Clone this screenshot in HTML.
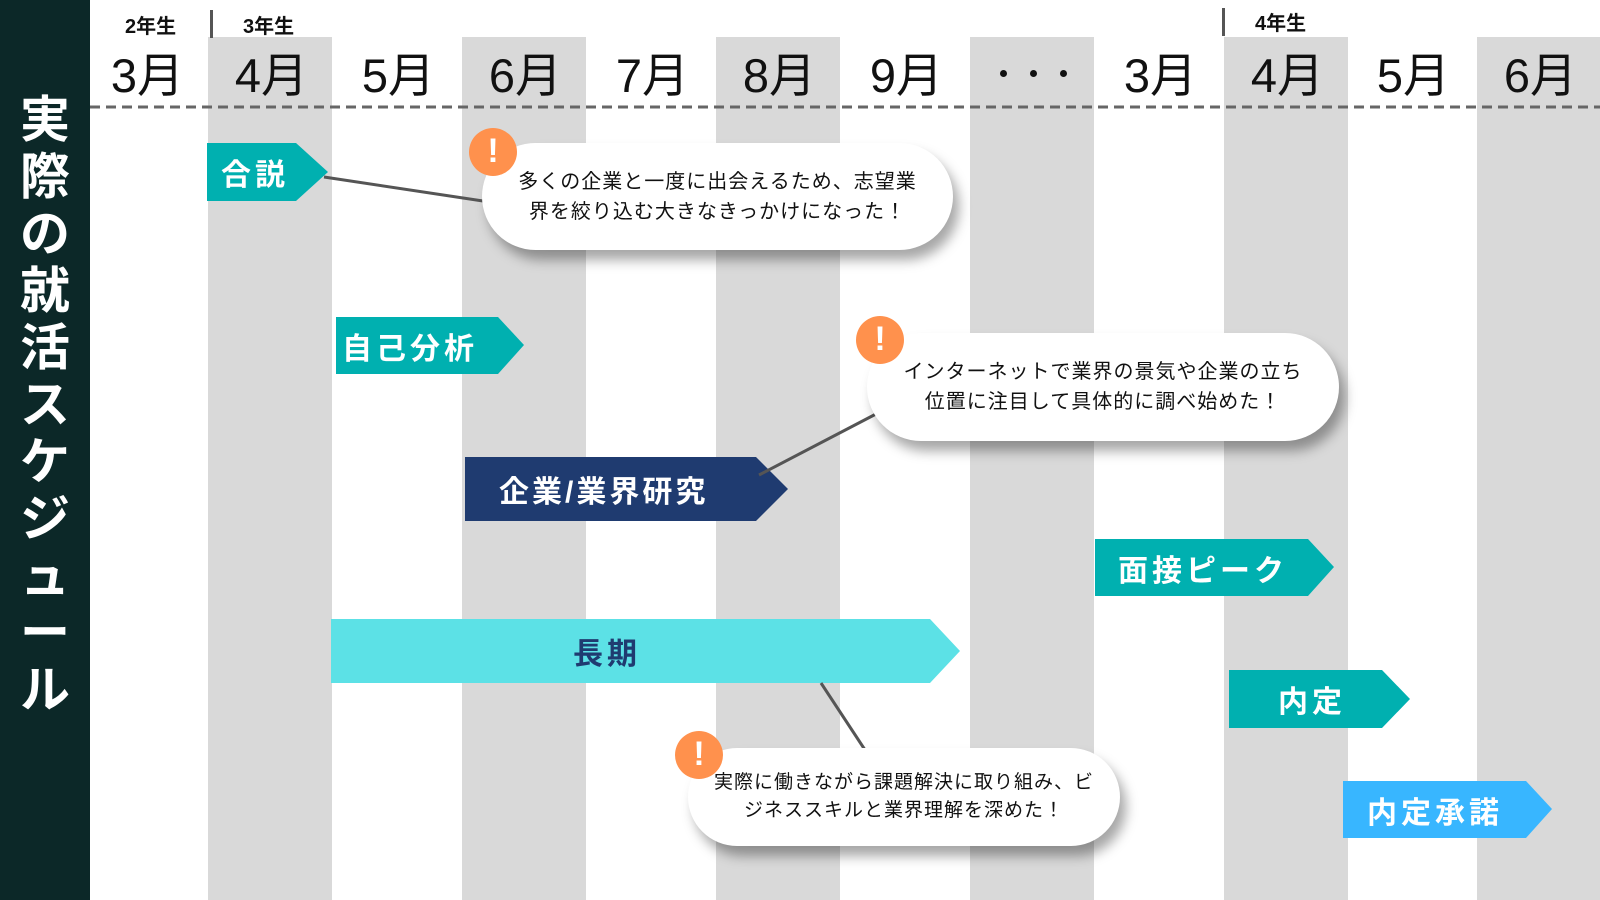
<!DOCTYPE html>
<html><head><meta charset="utf-8"><style>
*{margin:0;padding:0;box-sizing:border-box}
body{width:1600px;height:900px;position:relative;overflow:hidden;background:#fff;font-family:"Liberation Sans","Noto Sans CJK JP",sans-serif}
.a{position:absolute}
.side{left:0;top:0;width:90px;height:900px;background:#0c2828}
.gray{top:37px;height:863px;width:124px;background:#d9d9d9}
.mon{top:46px;width:127px;text-align:center;font-size:47px;color:#111;line-height:60px}
.yr{font-size:20px;font-weight:bold;color:#111}
.tag{color:#fff;font-weight:bold;display:flex;align-items:center;letter-spacing:4px}
.bub{background:#fff;border-radius:60px;box-shadow:6px 10px 12px rgba(0,0,0,.35);font-size:20px;line-height:30px;color:#111;text-align:center;display:flex;align-items:center;justify-content:center;letter-spacing:1px}
.ex{width:48px;height:48px;border-radius:50%;background:#ff914d;color:#fff;font-weight:bold;font-size:34px;text-align:center;line-height:46px}
.dot{width:7px;height:7px;border-radius:50%;background:#111;top:70px}
</style></head><body>
<div class="a side"></div>
<div class="a" style="left:16px;top:92px;width:58px;color:#fff;font-weight:bold;font-size:50px;line-height:57px;text-align:center">実<br>際<br>の<br>就<br>活<br>ス<br>ケ<br>ジ<br>ュ<br>ー<br>ル</div>

<div class="a gray" style="left:208px"></div>
<div class="a gray" style="left:462px"></div>
<div class="a gray" style="left:716px"></div>
<div class="a gray" style="left:970px"></div>
<div class="a gray" style="left:1224px"></div>
<div class="a gray" style="left:1477px;width:123px"></div>

<div class="a mon" style="left:84px">3月</div>
<div class="a mon" style="left:208px">4月</div>
<div class="a mon" style="left:335px">5月</div>
<div class="a mon" style="left:462px">6月</div>
<div class="a mon" style="left:589px">7月</div>
<div class="a mon" style="left:716px">8月</div>
<div class="a mon" style="left:843px">9月</div>
<div class="a dot" style="left:1000px"></div>
<div class="a dot" style="left:1030px"></div>
<div class="a dot" style="left:1060px"></div>
<div class="a mon" style="left:1097px">3月</div>
<div class="a mon" style="left:1224px">4月</div>
<div class="a mon" style="left:1350px">5月</div>
<div class="a mon" style="left:1477px">6月</div>

<div class="a yr" style="left:125px;top:10px">2年生</div>
<div class="a" style="left:210px;top:10px;width:3px;height:28px;background:#555"></div>
<div class="a yr" style="left:243px;top:10px">3年生</div>
<div class="a" style="left:1222px;top:8px;width:3px;height:28px;background:#555"></div>
<div class="a yr" style="left:1255px;top:7px">4年生</div>

<svg class="a" style="left:0;top:0" width="1600" height="900">
<line x1="90" y1="107" x2="1600" y2="107" stroke="#666" stroke-width="3" stroke-dasharray="10,6"/>
<polygon points="207,143 296,143 328,172 296,201 207,201" fill="#00b0b0"/>
<polygon points="336,317 498,317 524,345 498,374 336,374" fill="#00b0b0"/>
<polygon points="465,457 756,457 788,489 756,521 465,521" fill="#1f3b70"/>
<polygon points="1095,539 1308,539 1334,567 1308,596 1095,596" fill="#00b0b0"/>
<polygon points="331,619 930,619 960,651 930,683 331,683" fill="#5ce1e6"/>
<polygon points="1229,670 1382,670 1410,699 1382,728 1229,728" fill="#00b0b0"/>
<polygon points="1343,781 1526,781 1552,809 1526,838 1343,838" fill="#38b6ff"/>
<line x1="324" y1="177" x2="483" y2="201" stroke="#555" stroke-width="3"/>
<line x1="759" y1="475" x2="876" y2="414" stroke="#555" stroke-width="3"/>
<line x1="821" y1="683" x2="869" y2="756" stroke="#555" stroke-width="3"/>
</svg>

<div class="a tag" style="left:221px;top:143px;height:58px;font-size:30px">合説</div>
<div class="a tag" style="left:342px;top:317px;height:57px;font-size:30px">自己分析</div>
<div class="a tag" style="left:499px;top:457px;height:64px;font-size:30px;letter-spacing:3px">企業/業界研究</div>
<div class="a tag" style="left:1118px;top:539px;height:57px;font-size:30px">面接ピーク</div>
<div class="a tag" style="left:573px;top:619px;height:64px;font-size:30px;color:#1f3b70">長期</div>
<div class="a tag" style="left:1278px;top:670px;height:58px;font-size:30px">内定</div>
<div class="a tag" style="left:1367px;top:781px;height:57px;font-size:30px">内定承諾</div>

<div class="a bub" style="left:482px;top:143px;width:471px;height:107px">多くの企業と一度に出会えるため、志望業<br>界を絞り込む大きなきっかけになった！</div>
<div class="a ex" style="left:469px;top:128px">!</div>
<div class="a bub" style="left:867px;top:333px;width:472px;height:108px">インターネットで業界の景気や企業の立ち<br>位置に注目して具体的に調べ始めた！</div>
<div class="a ex" style="left:856px;top:316px">!</div>
<div class="a bub" style="left:688px;top:748px;width:432px;height:98px;font-size:19px;line-height:28px">実際に働きながら課題解決に取り組み、ビ<br>ジネススキルと業界理解を深めた！</div>
<div class="a ex" style="left:675px;top:731px">!</div>
</body></html>
